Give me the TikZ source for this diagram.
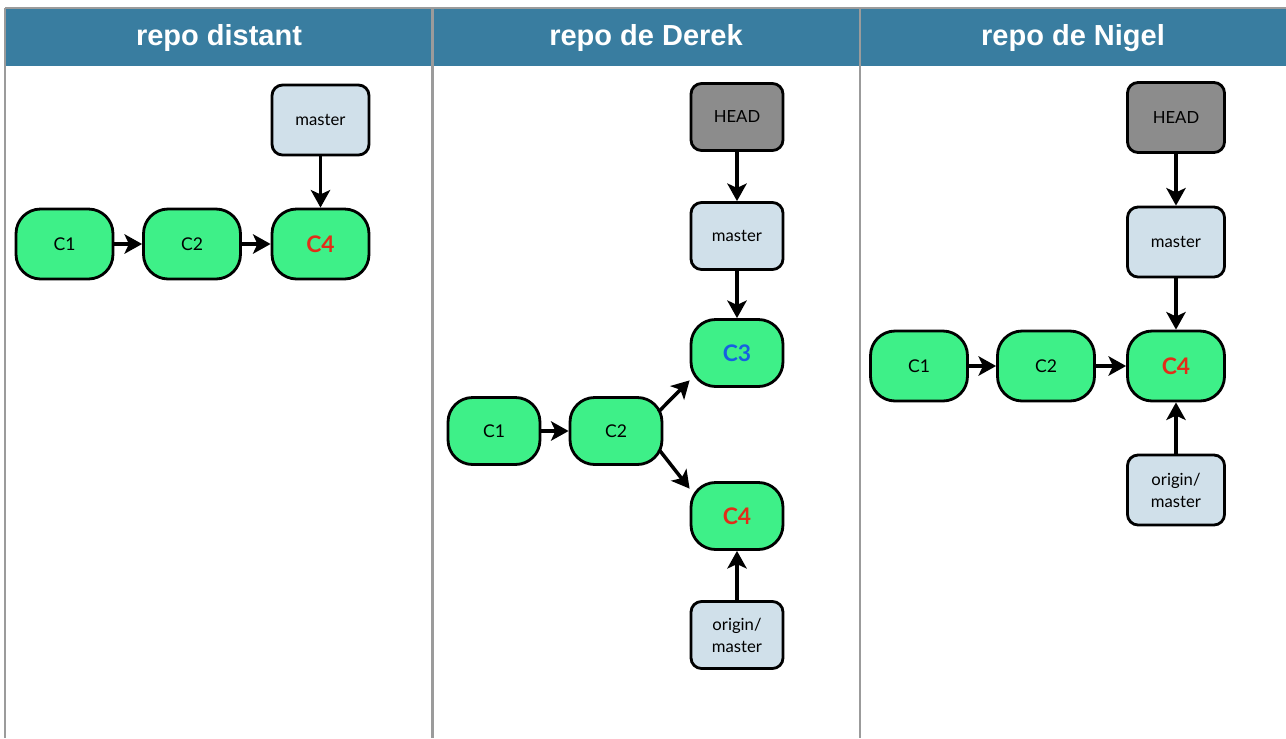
\documentclass[tikz,border=0pt]{standalone}
\usepackage{fontspec}
\setmainfont{Lato}
\newfontfamily\headfont{Liberation Sans}
\usepackage{tikz}
\usetikzlibrary{arrows.meta,positioning}
\definecolor{hdblue}{RGB}{57,125,160}
\definecolor{gitgreen}{RGB}{62,240,136}
\definecolor{reflight}{RGB}{208,224,234}
\definecolor{headgray}{RGB}{140,140,140}
\definecolor{rulegray}{RGB}{155,155,155}
\definecolor{cred}{RGB}{226,45,25}
\definecolor{cblue}{RGB}{22,96,226}

\begin{document}
\begin{tikzpicture}[x=0.02cm,y=-0.02cm,
  commit/.style={draw,fill=gitgreen,line width=1.6pt,rounded corners=14pt,minimum width=1.94cm,minimum height=1.4cm,font=\fontsize{10}{12}\selectfont},
  ref/.style={draw,fill=reflight,line width=1.6pt,rounded corners=6pt,minimum width=1.94cm,minimum height=1.4cm,font=\fontsize{9.5}{12.5}\selectfont,align=center},
  headref/.style={ref,fill=headgray},
  narrow/.style={minimum width=1.84cm,minimum height=1.34cm},
  ptr/.style={-{Stealth[length=10pt,width=11pt,inset=2.5pt]},line width=2pt},
  title/.style={font=\headfont\bfseries\fontsize{16.5}{20}\selectfont,text=white},
  newc/.style={font=\bfseries\fontsize{13}{15}\selectfont,text=cred}]
  \useasboundingbox (0,0) rectangle (1286,738);
  % header band and column rules
  \fill[hdblue] (5,8) rectangle (1286,66);
  \draw[rulegray,line width=1.4pt] (5,8) -- (1286,8);
  \draw[rulegray,line width=1.4pt] (5,8) -- (5,738);
  \draw[rulegray,line width=1.4pt] (432.5,8) -- (432.5,738);
  \draw[rulegray,line width=1.4pt] (860,8) -- (860,738);
  \node[title] (t1) at (219,38) {repo distant};
  \node[title] (t2) at (646,38) {repo de Derek};
  \node[title] (t3) at (1073,38) {repo de Nigel};
  % repo distant
  \node[ref] (rmaster) at (320.5,120) {master};
  \node[commit] (r1) at (64.5,244) {C1};
  \node[commit] (r2) at (192,244) {C2};
  \node[commit,newc] (r4) at (320.5,244) {C4};
  \draw[ptr] (r1) -- (r2);
  \draw[ptr] (r2) -- (r4);
  \draw[ptr] (rmaster) -- (r4);
  % repo de Derek
  \node[headref,narrow] (dhead) at (737,117) {HEAD};
  \node[ref,narrow] (dmaster) at (737,236) {master};
  \node[commit,narrow] (d1) at (494,431) {C1};
  \node[commit,narrow] (d2) at (616,431) {C2};
  \node[commit,narrow,newc,text=cblue] (d3) at (737,353) {C3};
  \node[commit,narrow,newc] (d4) at (737,516) {C4};
  \node[ref,narrow] (dorigin) at (737,635) {origin/\\master};
  \draw[ptr] (dhead) -- (dmaster);
  \draw[ptr] (dmaster) -- (d3);
  \draw[ptr] (d1) -- (d2);
  \draw[ptr,shorten <=-4pt] (d2.27) -- (d3.210);
  \draw[ptr,shorten <=-4pt] (d2.-27) -- (d4.150);
  \draw[ptr] (dorigin) -- (d4);
  % repo de Nigel
  \node[headref] (nhead) at (1176,117.5) {HEAD};
  \node[ref] (nmaster) at (1176,242) {master};
  \node[commit] (n1) at (919,366) {C1};
  \node[commit] (n2) at (1046,366) {C2};
  \node[commit,newc] (n4) at (1176,366) {C4};
  \node[ref] (norigin) at (1176,490) {origin/\\master};
  \draw[ptr] (nhead) -- (nmaster);
  \draw[ptr] (nmaster) -- (n4);
  \draw[ptr] (n1) -- (n2);
  \draw[ptr] (n2) -- (n4);
  \draw[ptr] (norigin) -- (n4);
\end{tikzpicture}
\end{document}
